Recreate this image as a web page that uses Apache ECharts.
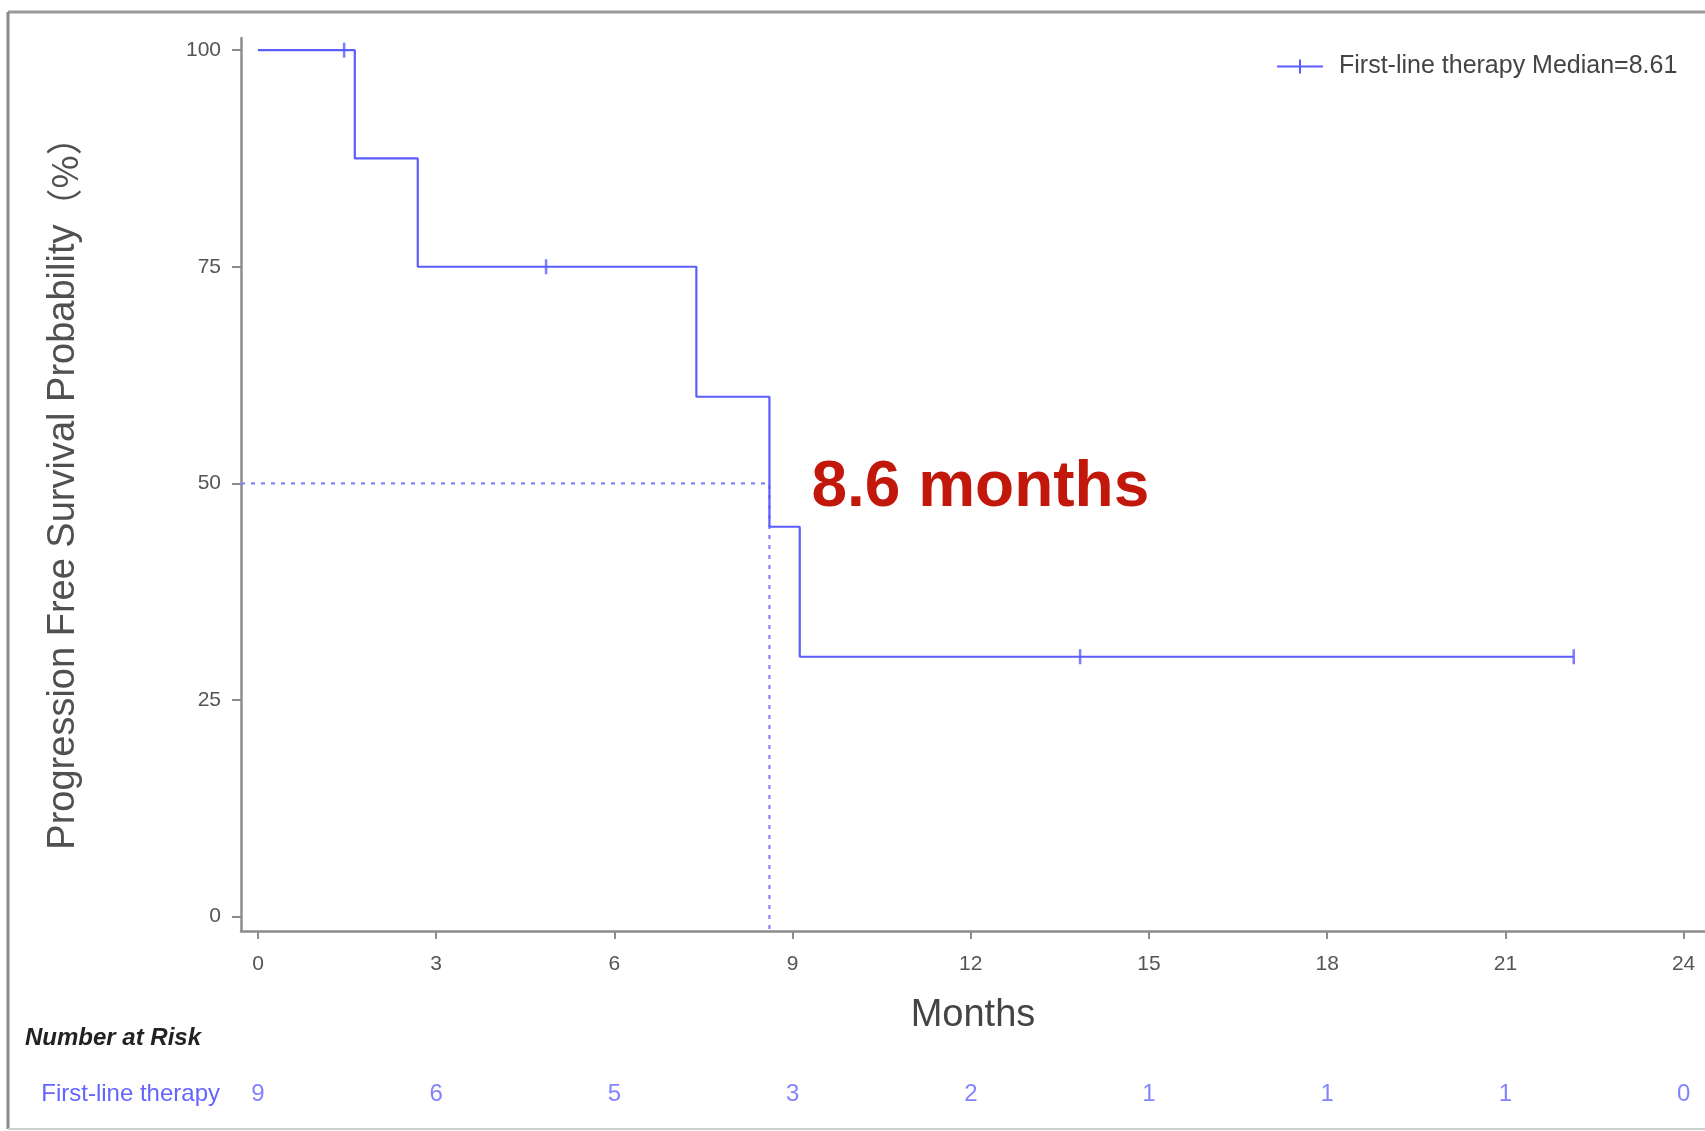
<!DOCTYPE html>
<html>
<head>
<meta charset="utf-8">
<script src="https://cdn.jsdelivr.net/npm/echarts@6/dist/echarts.min.js"></script>
<style>
  html, body { margin: 0; padding: 0; background: #ffffff; }
  #chart { width: 1705px; height: 1131px; }
</style>
</head>
<body>
<div id="chart"></div>
<script>
// Kaplan–Meier progression-free survival, first-line therapy cohort
const groupName = 'First-line therapy';
const medianMonths = 8.61;

// Step curve: start, each progression event, and last follow-up
const curveMonths   = [0, 1.63, 2.69, 7.38, 8.61, 9.12, 22.15];
const curveSurvival = [100, 87.5, 75, 60, 45, 30, 30];

// Censored patients
const censorMonths   = [1.45, 4.85, 13.84, 22.15];
const censorSurvival = [100, 75, 30, 30];

// Axis ticks
const monthTicks    = [0, 3, 6, 9, 12, 15, 18, 21, 24];
const survivalTicks = [0, 25, 50, 75, 100];

// Number at risk under each month tick
const atRisk = [9, 6, 5, 3, 2, 1, 1, 1, 0];

const medianLevel = 50;
const X_MIN = -0.286, X_MAX = 24.36;
const Y_MIN = -1.65, Y_MAX = 101.4;

const blue = '#5c5cff';
const seriesName = groupName + ' Median=' + medianMonths;
const font = '"Liberation Sans", Arial, "Noto Sans CJK SC", sans-serif';
const cjk = '"Noto Sans CJK SC", "Liberation Sans", sans-serif';

const curveData  = curveMonths.map((m, i) => [m, curveSurvival[i]]);
const censorData = censorMonths.map((m, i) => [m, censorSurvival[i]]);
const medianData = [[X_MIN, medianLevel], [medianMonths, medianLevel], [medianMonths, Y_MIN]];
const riskData   = monthTicks.map((m, i) => [m, groupName, atRisk[i]]);

const chart = echarts.init(document.getElementById('chart'), null, { renderer: 'canvas' });

chart.setOption({
  backgroundColor: '#ffffff',
  animation: false,
  textStyle: { fontFamily: font },
  title: {
    text: 'Number at Risk',
    left: 20,
    top: 1021,
    textStyle: { fontFamily: font, fontSize: 24, fontWeight: 'bold', fontStyle: 'italic', color: '#222222' }
  },
  legend: {
    left: 1272,
    top: 49,
    itemWidth: 46,
    itemHeight: 14,
    data: [{ name: seriesName, icon: 'path://M0,6h46v2h-46z M22,0h2v14h-2z' }],
    textStyle: { fontFamily: font, fontSize: 25, color: '#444444', padding: [0, 0, 0, 11] }
  },
  grid: [
    { left: 241, right: 0, top: 38, bottom: 200 },
    { left: 241, right: 0, top: 1082, height: 24 }
  ],
  xAxis: [
    {
      gridIndex: 0,
      type: 'value',
      min: X_MIN,
      max: X_MAX,
      name: 'Months',
      nameLocation: 'middle',
      nameGap: 66,
      nameTextStyle: { fontFamily: font, fontSize: 38, color: '#444444' },
      axisLine: { show: true, onZero: false, lineStyle: { color: '#8c8c8c', width: 2.5 } },
      axisTick: { show: true, length: 8, customValues: monthTicks, lineStyle: { color: '#8c8c8c', width: 2 } },
      axisLabel: { customValues: monthTicks, margin: 23, fontSize: 21, color: '#555555', fontFamily: font },
      splitLine: { show: false }
    },
    {
      gridIndex: 1,
      type: 'value',
      min: X_MIN,
      max: X_MAX,
      show: false
    }
  ],
  yAxis: [
    {
      gridIndex: 0,
      type: 'value',
      min: Y_MIN,
      max: Y_MAX,
      name: 'Progression Free Survival Probability{p|（%）}',
      nameLocation: 'middle',
      nameRotate: 90,
      nameGap: 158,
      nameTextStyle: {
        fontFamily: font, fontSize: 38, color: '#505050',
        rich: { p: { fontFamily: cjk, fontSize: 36, color: '#505050' } }
      },
      axisLine: { show: true, onZero: false, lineStyle: { color: '#8c8c8c', width: 2.5 } },
      axisTick: { show: true, length: 9, customValues: survivalTicks, lineStyle: { color: '#8c8c8c', width: 2 } },
      axisLabel: { customValues: survivalTicks, margin: 20, fontSize: 21, color: '#555555', fontFamily: font },
      splitLine: { show: false }
    },
    {
      gridIndex: 1,
      type: 'category',
      data: [groupName],
      axisLine: { show: false },
      axisTick: { show: false },
      axisLabel: { margin: 21, fontSize: 24, color: '#6464ff', fontFamily: font }
    }
  ],
  graphic: [
    // outer frame
    { type: 'line', silent: true, shape: { x1: 8, y1: 12, x2: 1705, y2: 12 }, style: { stroke: '#9a9a9a', lineWidth: 3 } },
    { type: 'line', silent: true, shape: { x1: 8, y1: 12, x2: 8, y2: 1129 }, style: { stroke: '#8a8a8a', lineWidth: 3 } },
    { type: 'line', silent: true, shape: { x1: 8, y1: 1129, x2: 1705, y2: 1129 }, style: { stroke: '#d0d0d0', lineWidth: 2 } }
  ],
  series: [
    {
      name: seriesName,
      type: 'line',
      step: 'end',
      data: curveData,
      showSymbol: false,
      symbol: 'none',
      color: blue,
      itemStyle: { color: blue },
      lineStyle: { color: blue, width: 2.2 },
      z: 3
    },
    {
      name: 'censored',
      type: 'scatter',
      data: censorData,
      symbol: 'rect',
      symbolSize: [2.5, 15],
      itemStyle: { color: blue },
      z: 4
    },
    {
      name: 'median',
      type: 'line',
      data: medianData,
      showSymbol: false,
      symbol: 'none',
      lineStyle: { color: '#8484ff', width: 2.2, type: [4, 6] },
      z: 2,
      markPoint: {
        symbol: 'circle',
        symbolSize: 0,
        data: [{ coord: [medianMonths, medianLevel] }],
        label: {
          show: true,
          position: 'right',
          distance: 42,
          offset: [0, 5],
          formatter: () => medianMonths.toFixed(1) + ' months',
          fontFamily: font,
          fontSize: 64,
          fontWeight: 'bold',
          color: '#c2180b'
        }
      }
    },
    {
      name: 'at risk',
      type: 'scatter',
      xAxisIndex: 1,
      yAxisIndex: 1,
      data: riskData,
      symbolSize: 0,
      label: {
        show: true,
        position: 'inside',
        formatter: p => String(p.value[2]),
        fontFamily: font,
        fontSize: 24,
        color: '#6464ff'
      }
    }
  ]
});
</script>
</body>
</html>
